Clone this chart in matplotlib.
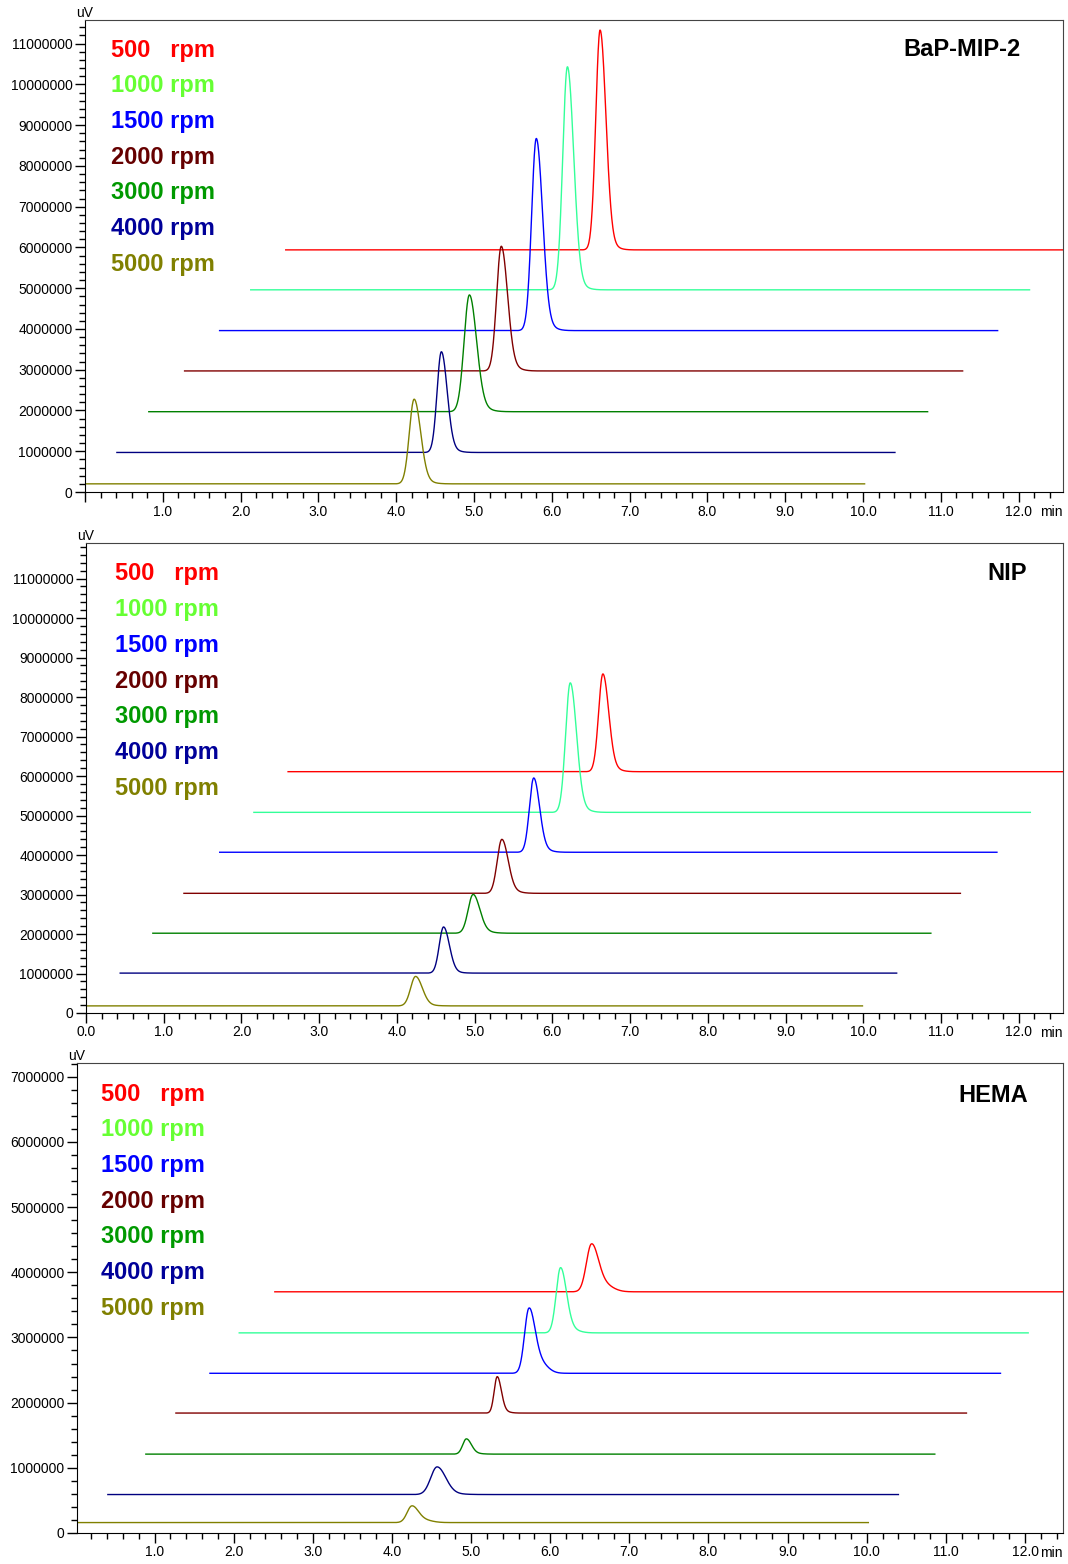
import numpy as np
import matplotlib
matplotlib.use("Agg")
import matplotlib.pyplot as plt
from matplotlib.ticker import MultipleLocator, FuncFormatter

plt.rcParams['font.family'] = ['Liberation Sans', 'DejaVu Sans']

speeds = ["500   rpm", "1000 rpm", "1500 rpm", "2000 rpm", "3000 rpm", "4000 rpm", "5000 rpm"]
line_colors = ["#FF0000", "#33FF99", "#0000FF", "#800000", "#008000", "#000080", "#808000"]
label_colors = ["#FF0000", "#66FF33", "#0000FF", "#660000", "#009900", "#000099", "#808000"]
titles = ["BaP-MIP-2", "NIP", "HEMA"]

# per trace (500 ... 5000 rpm): start/end time (min), baseline, apex time, apex (uV, millions), FWHM, shoulder
mip_start = [2.58, 2.13, 1.73, 1.28, 0.82, 0.41, 0.0]
mip_end = [12.7, 12.14, 11.73, 11.28, 10.83, 10.41, 10.02]
mip_base = [5.94, 4.96, 3.96, 2.97, 1.97, 0.97, 0.20]
mip_rt = [6.62, 6.20, 5.80, 5.35, 4.94, 4.58, 4.23]
mip_top = [11.30, 10.40, 8.64, 6.00, 4.81, 3.42, 2.26]
mip_fwhm = [0.13, 0.14, 0.14, 0.14, 0.16, 0.13, 0.145]
mip_tail = [0.08, 0.08, 0.08, 0.07, 0.06, 0.05, 0.04]

nip_start = [2.60, 2.16, 1.72, 1.26, 0.86, 0.44, 0.0]
nip_end = [12.7, 12.15, 11.72, 11.25, 10.87, 10.43, 9.99]
nip_base = [6.11, 5.08, 4.07, 3.03, 2.02, 1.01, 0.18]
nip_rt = [6.65, 6.23, 5.76, 5.35, 4.98, 4.60, 4.24]
nip_top = [8.56, 8.33, 5.93, 4.38, 2.99, 2.17, 0.92]
nip_fwhm = [0.13, 0.14, 0.13, 0.14, 0.15, 0.13, 0.15]
nip_tail = [0.06, 0.07, 0.05, 0.04, 0.03, 0.02, 0.015]

hema_start = [2.52, 2.07, 1.70, 1.27, 0.89, 0.41, 0.0]
hema_end = [12.7, 12.04, 11.69, 11.26, 10.86, 10.40, 10.02]
hema_base = [3.70, 3.07, 2.45, 1.84, 1.21, 0.59, 0.16]
hema_rt = [6.52, 6.13, 5.73, 5.33, 4.94, 4.57, 4.25]
hema_top = [4.39, 4.05, 3.38, 2.39, 1.44, 1.01, 0.40]
hema_fwhm = [0.15, 0.13, 0.13, 0.09, 0.11, 0.19, 0.14]
hema_tail = [0.11, 0.05, 0.17, 0.02, 0.01, 0.01, 0.04]

panels = [
    (mip_start, mip_end, mip_base, mip_rt, mip_top, mip_fwhm, mip_tail),
    (nip_start, nip_end, nip_base, nip_rt, nip_top, nip_fwhm, nip_tail),
    (hema_start, hema_end, hema_base, hema_rt, hema_top, hema_fwhm, hema_tail),
]

W, H = 1068, 1564
fig = plt.figure(figsize=(W / 100, H / 100), dpi=100)

# axes boxes in pixels: left, top, bottom
boxes = [(85, 20, 492), (86, 543, 1013), (77, 1063, 1533)]
xlims = [(0.0, 12.57), (0.0, 12.57), (0.02, 12.48)]
ylims = [11.58, 11.9, 7.21]
legend_xy = [(111, 50), (115, 574), (101, 1094)]
title_xy = [(1021, 50), (1027, 573), (1028, 1095)]
show_zero = [False, True, False]
row_step = 35.7

for i, (st, en, base, rt, top, fwhm, tail) in enumerate(panels):
    left, ytop, ybot = boxes[i]
    ax = fig.add_axes([left / W, 1 - ybot / H, (1063 - left) / W, (ybot - ytop) / H])
    for k in range(7):
        t = np.linspace(st[k], en[k], 3000)
        s = fwhm[k] / 2.355
        h = top[k] - base[k]
        sr = np.where(t < rt[k], s, s * 1.35)
        y = base[k] + h * np.exp(-0.5 * ((t - rt[k]) / sr) ** 2)
        y = y + tail[k] * np.exp(-0.5 * ((t - rt[k] - 2.4 * s) / (1.8 * s)) ** 2)
        ax.plot(t, y, color=line_colors[k], lw=1.0)
    ax.set_xlim(*xlims[i])
    ax.set_ylim(0, ylims[i])

    ax.xaxis.set_major_locator(MultipleLocator(1.0))
    ax.xaxis.set_minor_locator(MultipleLocator(0.2))
    ax.yaxis.set_major_locator(MultipleLocator(1.0))
    ax.yaxis.set_minor_locator(MultipleLocator(0.2))
    zero = show_zero[i]
    ax.xaxis.set_major_formatter(FuncFormatter(
        lambda v, p, z=zero: "" if (v < 0.5 and not z) or v > 12.3 else "%.1f" % v))
    ax.yaxis.set_major_formatter(FuncFormatter(lambda v, p: "%d" % round(v * 1e6)))
    ax.tick_params(which="major", length=7, width=1, labelsize=10, pad=2, direction="out")
    ax.tick_params(which="minor", length=4, width=1, direction="out")
    for sp in ["top", "right"]:
        ax.spines[sp].set_color("#444444")

    ax.text(0, 1.0, "uV", transform=ax.transAxes, ha="center", va="bottom", fontsize=10)
    ax.annotate("min", xy=(1, 0), xycoords="axes fraction", xytext=(0, -9.5),
                textcoords="offset points", ha="right", va="top", fontsize=10)

    lx, ly = legend_xy[i]
    for k in range(7):
        fig.text(lx / W, 1 - (ly + k * row_step) / H, speeds[k], color=label_colors[k],
                 fontsize=17, fontweight="bold", ha="left", va="center")
    tx, ty = title_xy[i]
    fig.text(tx / W, 1 - ty / H, titles[i], color="black", fontsize=17,
             fontweight="bold", ha="right", va="center")

fig.savefig("out.png", dpi=100)
